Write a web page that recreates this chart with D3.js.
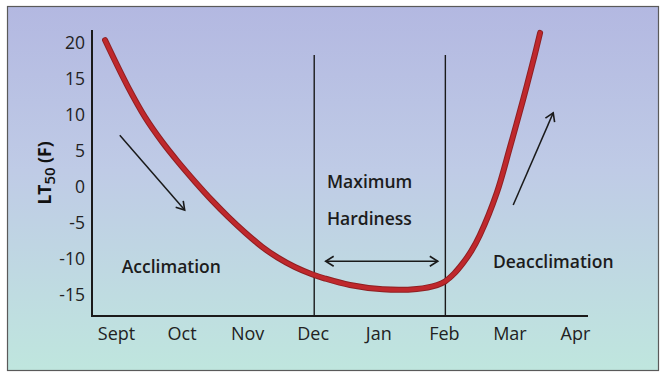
<!DOCTYPE html>
<html>
<head>
<meta charset="utf-8">
<script src="https://cdn.jsdelivr.net/npm/d3@7"></script>
<style>
  html, body { margin: 0; padding: 0; background: #fff; }
  svg { display: block; font-family: "Open Sans", "DejaVu Sans", sans-serif; }
</style>
</head>
<body>
<div id="chart"></div>
<script>
"use strict";
// Seasonal cold hardiness (LT50) curve: acclimation -> max hardiness -> deacclimation.

const months = ['Sept', 'Oct', 'Nov', 'Dec', 'Jan', 'Feb', 'Mar', 'Apr'];
const yTicks = [20, 15, 10, 5, 0, -5, -10, -15];

// curve: month index (Sept = 0) and LT50 in F
const curveMonth = [-0.175, 0.175, 0.435, 0.694, 0.938, 1.197, 1.456, 1.70, 1.96, 2.22, 2.46, 2.72, 2.98, 3.18, 3.56, 4.06, 4.58, 4.89, 5.01, 5.15, 5.28, 5.41, 5.54, 5.80, 6.00, 6.20, 6.38, 6.46];
const curveLT50 = [20.4, 13.9, 9.7, 6.3, 3.5, 0.75, -1.85, -4.1, -6.3, -8.3, -9.8, -11.1, -12.1, -12.7, -13.6, -14.2, -14.15, -13.6, -13.1, -12.0, -10.6, -8.9, -6.7, -0.8, 5.5, 12.1, 18.4, 21.4];

// max hardiness window (Dec .. Feb)
const hardinessBounds = [3, 5];

// annotation arrows, [month, LT50] start -> end
const arrowFrom = [[0.05, 7.2], [6.05, -2.5]];
const arrowTo = [[1.04, -3.2], [6.66, 10.3]];
const spanArrow = [3.19, 4.90, -10.3];

const labels = [
  { text: 'Maximum', m: 3.21, v: -0.1 },
  { text: 'Hardiness', m: 3.21, v: -5.2 },
  { text: 'Acclimation', m: 0.08, v: -11.9 },
  { text: 'Deacclimation', m: 5.74, v: -11.2 },
];

const W = 671, H = 382;
const svg = d3.select('#chart').append('svg').attr('width', W).attr('height', H);

const defs = svg.append('defs');
const grad = defs.append('linearGradient').attr('id', 'bg').attr('x1', 0).attr('y1', 0).attr('x2', 0).attr('y2', 1);
grad.append('stop').attr('offset', '0%').attr('stop-color', '#b3b8e1');
grad.append('stop').attr('offset', '45%').attr('stop-color', '#bfcbe6');
grad.append('stop').attr('offset', '100%').attr('stop-color', '#bfe6de');

defs.append('marker')
  .attr('id', 'head').attr('viewBox', '-10 -6 12 12').attr('refX', 0).attr('refY', 0)
  .attr('orient', 'auto-start-reverse').attr('markerUnits', 'userSpaceOnUse')
  .attr('markerWidth', 12).attr('markerHeight', 12)
  .append('path').attr('d', 'M -8,-5 L 0,0 L -8,5').attr('fill', 'none')
  .attr('stroke', '#1a1a1a').attr('stroke-width', 1.6);

// panel
svg.append('rect').attr('x', 7.5).attr('y', 6.5).attr('width', 651).attr('height', 364)
  .attr('fill', 'url(#bg)').attr('stroke', '#5a5a5a').attr('stroke-width', 1.2);

const x = d3.scaleLinear().domain([0, months.length - 1]).range([116.5, 575.5]);
const y = d3.scaleLinear().domain([-17.9, 21.8]).range([316, 30]);

// axes lines
svg.append('line').attr('x1', 92).attr('x2', 92).attr('y1', y.range()[1]).attr('y2', y.range()[0])
  .attr('stroke', '#1a1a1a').attr('stroke-width', 2);
svg.append('line').attr('x1', 91).attr('x2', 588).attr('y1', y.range()[0]).attr('y2', y.range()[0])
  .attr('stroke', '#1a1a1a').attr('stroke-width', 2);

// y tick labels
svg.append('g').selectAll('text').data(yTicks).enter().append('text')
  .attr('x', 85).attr('y', (d) => y(d)).attr('dy', '0.36em').attr('text-anchor', 'end')
  .attr('font-size', 17.5).attr('fill', '#222').text((d) => d);

// month labels
svg.append('g').selectAll('text').data(months).enter().append('text')
  .attr('x', (d, i) => x(i)).attr('y', 340).attr('text-anchor', 'middle')
  .attr('font-size', 18).attr('fill', '#222').text((d) => d);

// y title
const title = svg.append('text').attr('transform', 'translate(51,173) rotate(-90)')
  .attr('text-anchor', 'middle').attr('font-size', 17.5).attr('font-weight', 700).attr('fill', '#111');
title.append('tspan').text('LT');
title.append('tspan').attr('font-size', 15).attr('font-weight', 600).attr('dy', 4).text('50');
title.append('tspan').attr('dy', -4).text(' (F)');

// hardiness window
svg.append('g').selectAll('line').data(hardinessBounds).enter().append('line')
  .attr('x1', (d) => x(d) + 1).attr('x2', (d) => x(d) + 1).attr('y1', 55).attr('y2', y.range()[0])
  .attr('stroke', '#1a1a1a').attr('stroke-width', 1.4);

// curve
const pts = curveMonth.map((m, i) => [m, curveLT50[i]]);
const line = d3.line().x((d) => x(d[0])).y((d) => y(d[1])).curve(d3.curveCatmullRom.alpha(0.5));
svg.append('path').attr('d', line(pts)).attr('fill', 'none')
  .attr('stroke', '#8e1f22').attr('stroke-width', 6).attr('stroke-linecap', 'round');
svg.append('path').attr('d', line(pts)).attr('fill', 'none')
  .attr('stroke', '#bf282c').attr('stroke-width', 4).attr('stroke-linecap', 'round');

// arrows
svg.append('g').selectAll('line').data(arrowFrom).enter().append('line')
  .attr('x1', (d) => x(d[0])).attr('y1', (d) => y(d[1]))
  .attr('x2', (d, i) => x(arrowTo[i][0])).attr('y2', (d, i) => y(arrowTo[i][1]))
  .attr('stroke', '#1a1a1a').attr('stroke-width', 1.5).attr('marker-end', 'url(#head)');
svg.append('line')
  .attr('x1', x(spanArrow[0])).attr('x2', x(spanArrow[1])).attr('y1', y(spanArrow[2])).attr('y2', y(spanArrow[2]))
  .attr('stroke', '#1a1a1a').attr('stroke-width', 1.5)
  .attr('marker-start', 'url(#head)').attr('marker-end', 'url(#head)');

// text labels
svg.append('g').selectAll('text').data(labels).enter().append('text')
  .attr('x', (d) => x(d.m)).attr('y', (d) => y(d.v))
  .attr('font-size', 17.5).attr('font-weight', 600).attr('fill', '#1c1c1c').text((d) => d.text);
</script>
</body>
</html>
